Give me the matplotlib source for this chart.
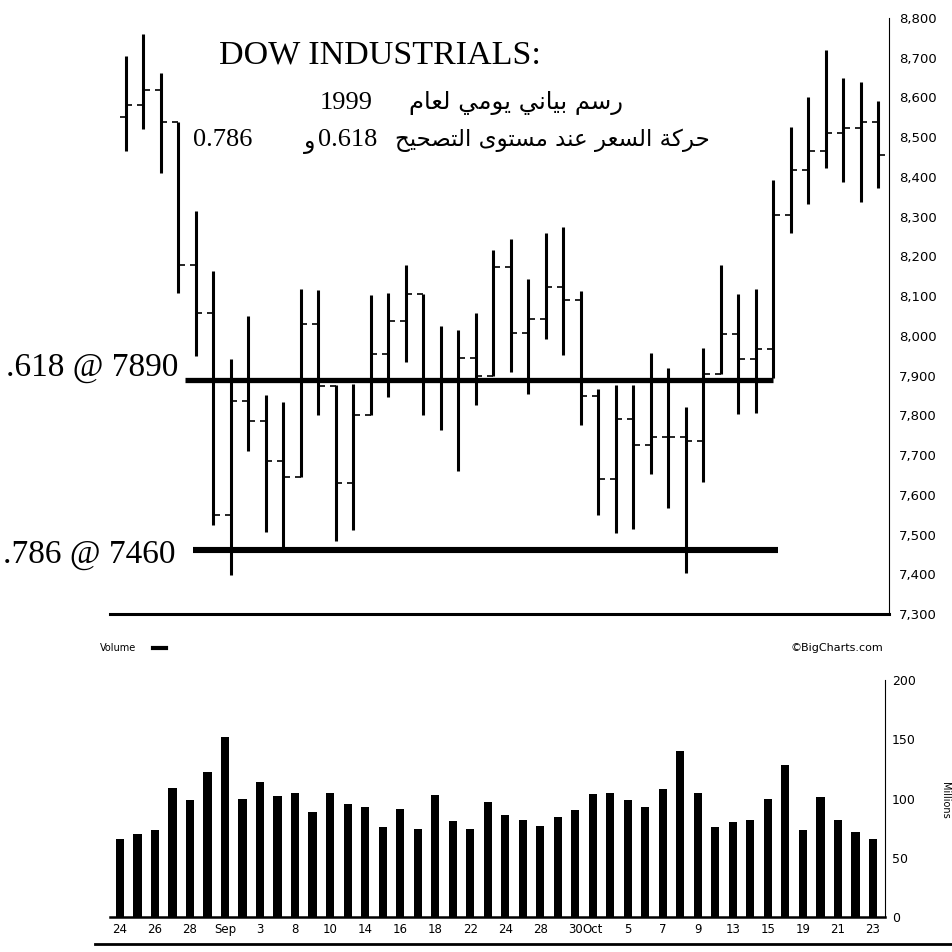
import numpy as np
import matplotlib
matplotlib.use("Agg")
import matplotlib.pyplot as plt
from matplotlib.lines import Line2D

plt.rcParams["font.family"] = ["DejaVu Sans"]

# -----------------------------
# Datos
# -----------------------------
opens = [8550, 8580, 8620, 8539, 8178, 8058, 7548, 7835, 7786, 7686, 7645,
         8030, 7875, 7630, 7802, 7954, 8038, 8106, 7885, 7890, 7944, 7900,
         8174, 8008, 8043, 8123, 8091, 7849, 7641, 7790, 7726, 7746, 7746,
         7735, 7905, 8004, 7942, 7968, 8304, 8417, 8465, 8510, 8524, 8538]
highs = [8705, 8759, 8661, 8539, 8315, 8164, 7943, 8050, 7850, 7834, 8117,
         8116, 7877, 7880, 8102, 8108, 8179, 8106, 8024, 8016, 8058, 8217,
         8245, 8144, 8260, 8274, 8114, 7867, 7877, 7877, 7956, 7920, 7820,
         7970, 8179, 8106, 8118, 8392, 8525, 8600, 8720, 8650, 8638, 8590]
lows = [8466, 8520, 8409, 8108, 7950, 7525, 7397, 7710, 7506, 7458, 7645,
        7800, 7484, 7512, 7802, 7846, 7934, 7800, 7762, 7660, 7825, 7900,
        7909, 7853, 7992, 7951, 7776, 7550, 7505, 7514, 7652, 7566, 7403,
        7633, 7904, 7803, 7807, 7895, 8258, 8333, 8422, 8386, 8338, 8372]
closes = [8580, 8620, 8539, 8178, 8058, 7548, 7835, 7786, 7686, 7645, 8030,
          7875, 7630, 7802, 7954, 8038, 8106, 7885, 7890, 7944, 7900, 8174,
          8008, 8043, 8123, 8091, 7849, 7641, 7790, 7726, 7746, 7746, 7735,
          7905, 8004, 7942, 7968, 8304, 8417, 8465, 8510, 8524, 8538, 8456]
volumes = [66, 70, 73, 109, 99, 122, 152, 100, 114, 102, 105, 89, 105, 95,
           93, 76, 91, 74, 103, 81, 74, 97, 86, 82, 77, 84, 90, 104, 105, 99,
           93, 108, 140, 105, 76, 80, 82, 100, 128, 73, 101, 82, 72, 66]

date_pos = [0, 2, 4, 6, 8, 10, 12, 14, 16, 18, 20, 22, 24, 26, 27,
            29, 31, 33, 35, 37, 39, 41, 43]
date_labels = ["24", "26", "28", "Sep", "3", "8", "10", "14", "16", "18",
               "22", "24", "28", "30", "Oct", "5", "7", "9", "13", "15",
               "19", "21", "23"]

fib_levels = [7890, 7460]
fib_labels = [".618 @ 7890", ".786 @ 7460"]

price_ticks = [7300, 7400, 7500, 7600, 7700, 7800, 7900, 8000,
               8100, 8200, 8300, 8400, 8500, 8600, 8700, 8800]
vol_ticks = [0, 50, 100, 150, 200]

# -----------------------------
# Texto arabe: formas de presentacion + orden visual
# -----------------------------
DUAL = {"ب": 0xFE8F, "ت": 0xFE95, "ح": 0xFEA1, "س": 0xFEB1, "ص": 0xFEB9,
        "ع": 0xFEC9, "ك": 0xFED9, "ل": 0xFEDD, "م": 0xFEE1, "ن": 0xFEE5,
        "ي": 0xFEF1}
RIGHT = {"ا": 0xFE8D, "ة": 0xFE93, "د": 0xFEA9, "ر": 0xFEAD, "و": 0xFEED,
         "ى": 0xFEEF}


def shape_ar(text):
    out = []
    for i, ch in enumerate(text):
        if ch not in DUAL and ch not in RIGHT:
            out.append(ch)
            continue
        prev = text[i - 1] if i > 0 else ""
        nxt = text[i + 1] if i + 1 < len(text) else ""
        jp = prev in DUAL
        jn = ch in DUAL and (nxt in DUAL or nxt in RIGHT)
        base = DUAL.get(ch, RIGHT.get(ch))
        if jp and jn:
            form = 3
        elif jp:
            form = 1
        elif jn:
            form = 2
        else:
            form = 0
        out.append(chr(base + form))
    return "".join(out)[::-1]


# -----------------------------
# Figura
# -----------------------------
W, H = 953, 952


def fx(px):
    return px / W


def fy(py):
    return 1 - py / H


fig = plt.figure(figsize=(9.53, 9.52), dpi=100)

# Panel de precios
ax = fig.add_axes([fx(110), fy(614), fx(889) - fx(110), fy(18) - fy(614)])
x = np.arange(len(closes))
ax.vlines(x, lows, highs, color="black", lw=2.2)
ax.hlines(opens, x - 0.36, x, color="black", lw=1.2)
ax.hlines(closes, x, x + 0.36, color="black", lw=1.2)

ax.hlines(fib_levels[0], 3.37, 36.97, color="black", lw=3.8)
ax.hlines(fib_levels[1], 3.83, 37.26, color="black", lw=4.4)

ax.set_xlim(-0.914, 43.6)
ax.set_ylim(7300, 8800)
ax.yaxis.tick_right()
ax.set_yticks(price_ticks, [f"{v:,}" for v in price_ticks])
ax.tick_params(axis="y", length=0, pad=7, labelsize=9.5)
ax.set_xticks([])
for s in ["top", "left"]:
    ax.spines[s].set_visible(False)
ax.spines["right"].set_linewidth(0.8)
ax.spines["bottom"].set_linewidth(2.2)

# Panel de volumen
axv = fig.add_axes([fx(110), fy(917), fx(885) - fx(110), fy(680) - fy(917)])
axv.bar(x, volumes, width=0.47, color="black")
axv.set_xlim(-0.571, 43.69)
axv.set_ylim(0, 200)
axv.yaxis.tick_right()
axv.set_yticks(vol_ticks, [str(v) for v in vol_ticks])
axv.tick_params(axis="y", length=0, pad=5, labelsize=9)
axv.set_xticks(date_pos, date_labels)
axv.tick_params(axis="x", length=0, pad=4, labelsize=8.5)
for s in ["top", "left"]:
    axv.spines[s].set_visible(False)
axv.spines["right"].set_linewidth(0.8)
axv.spines["bottom"].set_linewidth(1.8)

# Textos
fig.text(fx(380), fy(55), "DOW INDUSTRIALS:", family="Liberation Serif",
         fontsize=24.5, ha="center", va="center")
fig.text(fx(373), fy(103), "1999", family="Liberation Serif",
         fontsize=19, ha="right", va="center")
fig.text(fx(623), fy(103), shape_ar("رسم بياني يومي لعام"),
         fontsize=17.5, ha="right", va="center")
fig.text(fx(252), fy(140), "0.786", family="Liberation Serif",
         fontsize=19, ha="right", va="center")
fig.text(fx(377), fy(140), "0.618", family="Liberation Serif",
         fontsize=19, ha="right", va="center")
fig.text(fx(315), fy(142), shape_ar("و"),
         fontsize=17, ha="right", va="center")
fig.text(fx(710), fy(140), shape_ar("حركة السعر عند مستوى التصحيح"),
         fontsize=16.5, ha="right", va="center")

fig.text(fx(178), fy(368), fib_labels[0], family="Liberation Serif",
         fontsize=24, ha="right", va="center")
fig.text(fx(176), fy(555), fib_labels[1], family="Liberation Serif",
         fontsize=24, ha="right", va="center")

fig.text(fx(100), fy(648), "Volume", fontsize=7, ha="left", va="center")
fig.add_artist(Line2D([fx(153), fx(166)], [fy(648), fy(648)],
                      color="black", lw=3))
fig.text(fx(883), fy(648), "\u00a9BigCharts.com", fontsize=8,
         ha="right", va="center")
fig.text(fx(945), fy(800), "Millions", fontsize=7, rotation=-90,
         ha="center", va="center")

fig.add_artist(Line2D([fx(95), fx(953)], [fy(944), fy(944)],
                      color="black", lw=2))

fig.savefig("out.png", dpi=100)
